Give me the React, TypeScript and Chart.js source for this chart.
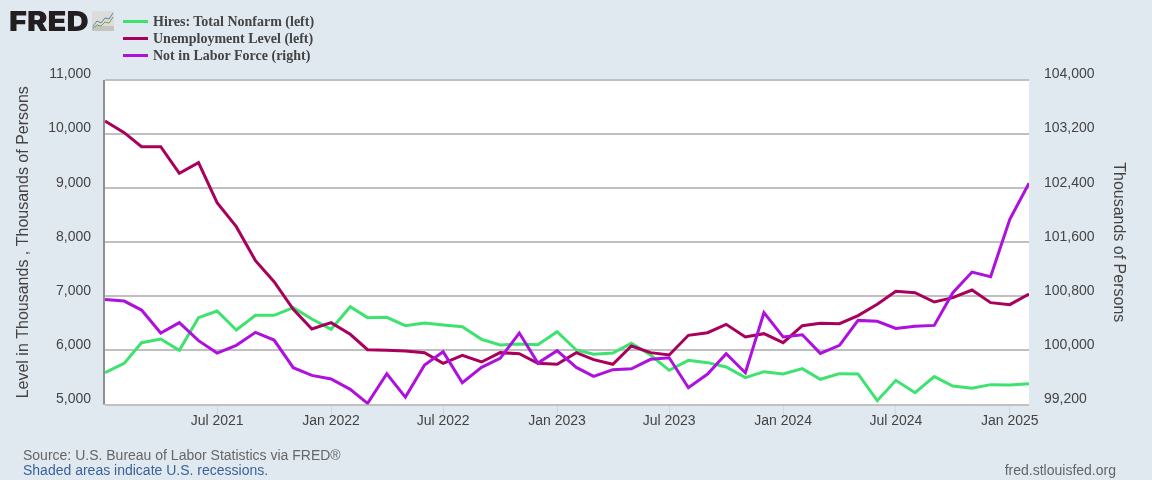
import React, { useEffect, useRef } from "react";
import { Chart, registerables } from "chart.js";

Chart.register(...registerables);

const months = [
  "2021-01","2021-02","2021-03","2021-04","2021-05","2021-06","2021-07","2021-08","2021-09","2021-10","2021-11","2021-12",
  "2022-01","2022-02","2022-03","2022-04","2022-05","2022-06","2022-07","2022-08","2022-09","2022-10","2022-11","2022-12",
  "2023-01","2023-02","2023-03","2023-04","2023-05","2023-06","2023-07","2023-08","2023-09","2023-10","2023-11","2023-12",
  "2024-01","2024-02","2024-03","2024-04","2024-05","2024-06","2024-07","2024-08","2024-09","2024-10","2024-11","2024-12",
  "2025-01","2025-02",
];

const hires = [
  5589,5761,6143,6211,6002,6606,6729,6378,6649,6649,6791,6581,
  6390,6809,6606,6612,6458,6507,6470,6439,6205,6100,6119,6107,
  6347,6008,5928,5952,6131,5915,5632,5817,5774,5694,5496,5607,
  5564,5663,5466,5570,5564,5071,5447,5219,5515,5342,5299,5367,
  5361,5385,
];
const unemployment = [
  10242,10026,9767,9767,9274,9471,8732,8288,7659,7271,6760,6396,
  6513,6298,6014,6002,5989,5959,5761,5909,5786,5959,5940,5761,
  5743,5959,5829,5743,6082,5959,5915,6279,6328,6482,6248,6310,
  6143,6458,6501,6495,6643,6852,7093,7068,6895,6975,7117,6883,
  6846,7043,
];
const notInLaborForce = [
  100755,100730,100597,100257,100410,100144,99961,100075,100267,100153,99744,99631,
  99577,99424,99217,99655,99310,99784,99981,99522,99749,99882,100257,99813,
  99996,99749,99616,99715,99729,99868,99892,99448,99651,99951,99670,100558,
  100198,100232,99956,100075,100444,100430,100326,100356,100370,100854,101159,101090,
  101939,102472,
];

const tickMonths = ["2021-07","2022-01","2022-07","2023-01","2023-07","2024-01","2024-07","2025-01"];
const tickLabels = ["Jul 2021","Jan 2022","Jul 2022","Jan 2023","Jul 2023","Jan 2024","Jul 2024","Jan 2025"];

const seriesNames = ["Hires: Total Nonfarm (left)", "Unemployment Level (left)", "Not in Labor Force (right)"];
const seriesColors = ["#3ee26f", "#a9005c", "#ae10de"];

const BG = "#e1e9f0";
const TEXT = "#444444";
const day = (m: string) => {
  const [y, mo] = m.split("-").map(Number);
  return Date.UTC(y, mo - 1, 1) / 86400000;
};
const fmt = (v: number) => Number(v).toLocaleString("en-US");
const toPoints = (vals: number[]) => vals.map((y, i) => ({ x: day(months[i]), y }));

const whiteArea = {
  id: "whiteArea",
  beforeDraw(c: any) {
    const { ctx, chartArea: a } = c;
    ctx.save();
    ctx.fillStyle = "#ffffff";
    ctx.fillRect(a.left, a.top, a.right - a.left, a.bottom - a.top);
    ctx.strokeStyle = "#8f8f8f";
    ctx.lineWidth = 2;
    ctx.beginPath();
    ctx.moveTo(a.left - 1, a.top);
    ctx.lineTo(a.left - 1, a.bottom);
    ctx.stroke();
    ctx.restore();
  },
};

export default function App() {
  const ref = useRef<HTMLCanvasElement>(null);
  useEffect(() => {
    const tickFont = { family: "'Liberation Sans', Arial, sans-serif", size: 14 };
    const titleFont = { family: "'Liberation Sans', Arial, sans-serif", size: 16 };
    const chart = new Chart(ref.current!, {
      type: "line",
      plugins: [whiteArea],
      data: {
        datasets: [
          { label: seriesNames[0], data: toPoints(hires), yAxisID: "y", borderColor: seriesColors[0], order: 3 },
          { label: seriesNames[1], data: toPoints(unemployment), yAxisID: "y", borderColor: seriesColors[1], order: 2 },
          { label: seriesNames[2], data: toPoints(notInLaborForce), yAxisID: "y1", borderColor: seriesColors[2], order: 1 },
        ],
      },
      options: {
        responsive: false,
        animation: false,
        parsing: false as any,
        layout: { padding: { top: 80, left: 0, right: 0, bottom: 0 } },
        elements: {
          point: { radius: 0 },
          line: { borderWidth: 3, tension: 0, borderJoinStyle: "miter", borderCapStyle: "butt" },
        },
        plugins: { legend: { display: false }, tooltip: { enabled: false }, title: { display: false } },
        scales: {
          x: {
            type: "linear",
            min: day(months[0]),
            max: day(months[months.length - 1]),
            afterFit: (s: any) => { s.height = 75.5; },
            afterBuildTicks: (s: any) => { s.ticks = tickMonths.map((m) => ({ value: day(m) })); },
            border: { display: false },
            grid: { drawOnChartArea: false, drawTicks: true, tickLength: 10, tickColor: "#ccd6eb", tickWidth: 1 },
            ticks: {
              autoSkip: false,
              maxRotation: 0,
              color: TEXT,
              font: tickFont,
              padding: -2,
              callback: (v: any) => tickLabels[tickMonths.findIndex((m) => day(m) === v)] ?? "",
            },
          },
          y: {
            position: "left",
            min: 5000,
            max: 11000,
            afterFit: (s: any) => { s.width = 105; },
            border: { display: false },
            grid: { color: "#c0c0c0", lineWidth: 2, drawTicks: false },
            ticks: { stepSize: 1000, color: TEXT, font: tickFont, padding: 14, labelOffset: -5.5, callback: (v: any) => fmt(v) },
            title: { display: true, text: "Level in Thousands , Thousands of Persons", color: TEXT, font: titleFont, padding: { top: 14, bottom: 0 } },
          },
          y1: {
            position: "right",
            min: 99200,
            max: 104000,
            afterFit: (s: any) => { s.width = 123; },
            border: { display: false },
            grid: { drawOnChartArea: false, drawTicks: false },
            ticks: { stepSize: 800, color: TEXT, font: tickFont, padding: 15, labelOffset: -5.5, callback: (v: any) => fmt(v) },
            title: { display: true, text: "Thousands of Persons", color: TEXT, font: titleFont, padding: { top: 24, bottom: 0 } },
          },
        },
      },
    } as any);
    return () => chart.destroy();
  }, []);

  const abs = (o: React.CSSProperties): React.CSSProperties => ({ position: "absolute", whiteSpace: "nowrap", ...o });
  const sans = "'Liberation Sans', Arial, sans-serif";
  return (
    <div style={{ position: "fixed", left: 0, top: 0, width: 1152, height: 480, background: BG, overflow: "hidden" }}>
      <canvas ref={ref} width={1152} height={480} style={{ position: "absolute", left: 0, top: 0, display: "block" }} />
      <div style={abs({ left: 9, top: 6, fontFamily: "Inter, " + sans, fontWeight: 900, fontSize: 27.5, lineHeight: "30px", color: "#231f20", transform: "scaleX(1.12)", transformOrigin: "left center" })}>FRED</div>
      <svg style={{ position: "absolute", left: 92, top: 11 }} width={22} height={20} viewBox="0 0 22 20">
        <rect width={22} height={20} rx={2} fill="#dcdcd8" />
        <rect y={15} width={22} height={5} rx={1} fill="#c4c4c0" />
        <polyline points="1,15 5,10 9,12 13,7 17,8 21,2" fill="none" stroke="#5b86a8" strokeWidth={1} />
        <polyline points="1,17 5,14 9,15 13,11 17,12 21,6" fill="none" stroke="#7e9a4e" strokeWidth={1} />
      </svg>
      {seriesNames.map((n, i) => (
        <React.Fragment key={n}>
          <div style={{ position: "absolute", left: 123, top: 20 + i * 17, width: 25, height: 3, background: seriesColors[i] }} />
          <div style={abs({ left: 153, top: 13 + i * 17, fontFamily: "'Liberation Serif', serif", fontWeight: 700, fontSize: 14, lineHeight: "17px", color: TEXT })}>{n}</div>
        </React.Fragment>
      ))}
      <div style={abs({ left: 23, top: 447, fontFamily: sans, fontSize: 14, lineHeight: "16px", color: "#666666" })}>Source: U.S. Bureau of Labor Statistics via FRED®</div>
      <div style={abs({ left: 23, top: 462, fontFamily: sans, fontSize: 14, lineHeight: "16px", color: "#3b6299" })}>Shaded areas indicate U.S. recessions.</div>
      <div style={abs({ right: 36, top: 462, fontFamily: sans, fontSize: 14, lineHeight: "16px", color: "#666666" })}>fred.stlouisfed.org</div>
    </div>
  );
}
